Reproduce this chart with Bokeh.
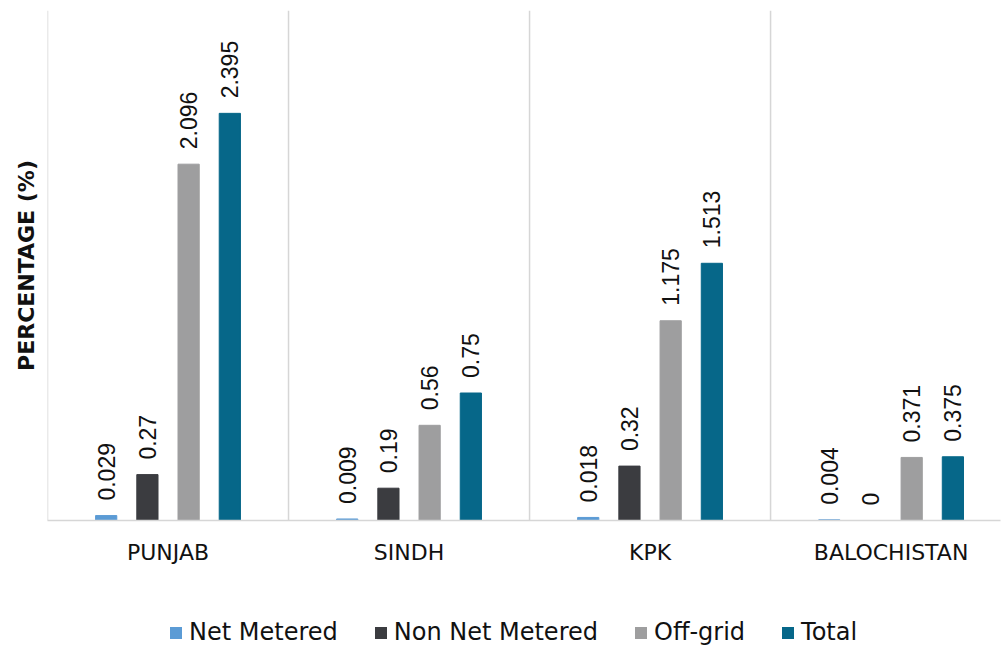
from bokeh.plotting import figure
from bokeh.layouts import column
from bokeh.models import (ColumnDataSource, Range1d, FixedTicker, Span, Legend,
                          LegendItem)
from bokeh.core.properties import value
from bokeh.embed import file_html
from bokeh.resources import INLINE
import math

# Provinces and the share (%) of each solar category
provinces = ["PUNJAB", "SINDH", "KPK", "BALOCHISTAN"]
net_metered = [0.029, 0.009, 0.018, 0.004]
non_net_metered = [0.27, 0.19, 0.32, 0.0]
off_grid = [2.096, 0.56, 1.175, 0.371]
total = [2.395, 0.75, 1.513, 0.375]

series_names = ["Net Metered", "Non Net Metered", "Off-grid", "Total"]
series_values = [net_metered, non_net_metered, off_grid, total]
colors = ["#5B9BD5", "#3B3C40", "#9E9E9F", "#066789"]
offsets = [-0.2565, -0.0855, 0.0855, 0.2565]
bar_width = 0.088

LABEL_FONT = "DejaVu Sans"
TEXT_COLOR = "#111111"

p = figure(width=1002, height=600, output_backend="svg", toolbar_location=None,
           x_range=Range1d(0, 3.954), y_range=Range1d(0, 3.0),
           min_border_left=47, min_border_right=2, min_border_top=10,
           min_border_bottom=80)
p.outline_line_color = None
p.xgrid.visible = False
p.ygrid.visible = False

centers = [i + 0.5 for i in range(len(provinces))]

sources = []
for name, vals, color, off in zip(series_names, series_values, colors, offsets):
    src = ColumnDataSource(dict(
        x=[c + off for c in centers],
        top=vals,
        label=[("%g" % v) for v in vals],
    ))
    sources.append(src)
    p.vbar(x="x", top="top", width=bar_width, bottom=0, source=src,
           fill_color=color, line_color=color, line_width=1)
    p.text(x="x", y="top", text="label", source=src, angle=math.pi / 2,
           text_align="left", text_baseline="middle", y_offset=-15,
           text_font=value("Liberation Sans"), text_font_size="23px",
           text_color=TEXT_COLOR)

# group separators
for i in range(len(provinces)):
    p.add_layout(Span(location=i, dimension="height", line_color="#D6D6D6",
                      line_width=1.5))

# x axis with province names
p.xaxis.ticker = FixedTicker(ticks=centers)
p.xaxis.major_label_overrides = {c: n for c, n in zip(centers, provinces)}
p.xaxis.major_tick_line_color = None
p.xaxis.minor_tick_line_color = None
p.xaxis.axis_line_color = "#D6D6D6"
p.xaxis.axis_line_width = 1.5
p.xaxis.major_label_standoff = 13
p.xaxis.major_label_text_font = LABEL_FONT
p.xaxis.major_label_text_font_size = "22px"
p.xaxis.major_label_text_color = TEXT_COLOR

# y axis: title only
p.yaxis.ticker = FixedTicker(ticks=[])
p.yaxis.axis_line_color = None
p.yaxis.major_tick_line_color = None
p.yaxis.minor_tick_line_color = None
p.yaxis.major_label_standoff = 0
p.yaxis.axis_label = "PERCENTAGE (%)"
p.yaxis.axis_label_standoff = 9
p.yaxis.axis_label_text_font = LABEL_FONT
p.yaxis.axis_label_text_font_style = "bold"
p.yaxis.axis_label_text_font_size = "22px"
p.yaxis.axis_label_text_color = TEXT_COLOR

# legend strip underneath the chart; its bars lie outside the visible ranges
leg = figure(width=1002, height=46, output_backend="svg", toolbar_location=None,
             x_range=Range1d(-101, -100), y_range=Range1d(99, 100),
             x_axis_location=None, y_axis_location=None,
             min_border_left=0, min_border_right=0, min_border_top=0,
             min_border_bottom=0)
leg.outline_line_color = None
leg.xgrid.visible = False
leg.ygrid.visible = False
swatches = [leg.vbar(x="x", top="top", width=bar_width, bottom=0, source=s,
                     fill_color=c, line_color=None)
            for s, c in zip(sources, colors)]
legend = Legend(items=[LegendItem(label=n, renderers=[r])
                       for n, r in zip(series_names, swatches)],
                orientation="horizontal", location=(121, 0),
                glyph_width=15, glyph_height=15, label_standoff=6, spacing=35,
                padding=0, margin=0, border_line_color=None,
                background_fill_alpha=0, label_text_font=LABEL_FONT,
                label_text_font_size="24px", label_text_color=TEXT_COLOR)
leg.add_layout(legend, "center")

open("out.html", "w").write(file_html(column(p, leg, spacing=0), INLINE))
